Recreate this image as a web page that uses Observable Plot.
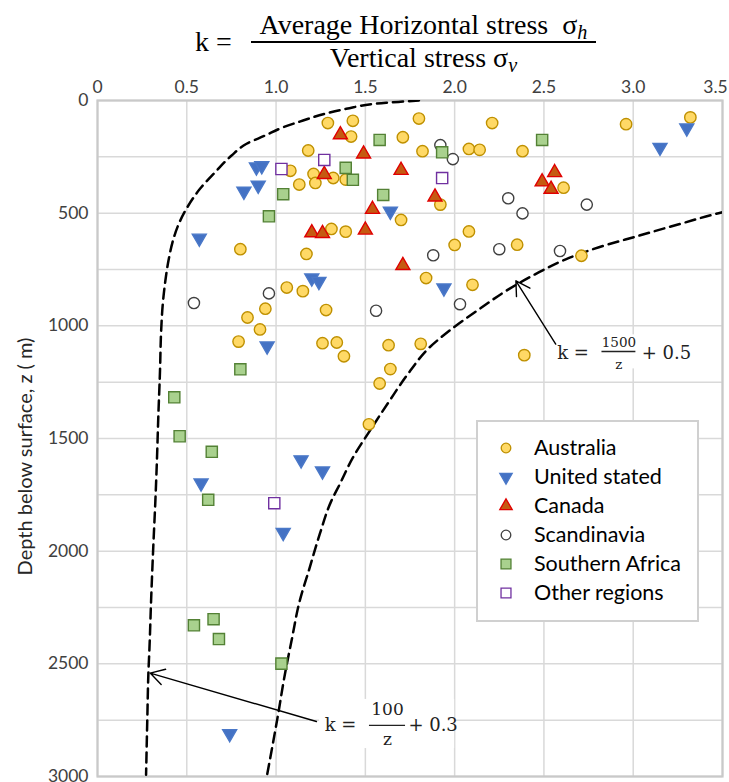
<!DOCTYPE html>
<html>
<head>
<meta charset="utf-8">
<script src="https://cdn.jsdelivr.net/npm/d3@7"></script>
<script src="https://cdn.jsdelivr.net/npm/@observablehq/plot@0.6"></script>
<style>
  body { margin: 0; background: #fff; }
  #wrap { position: relative; width: 729px; height: 782px; overflow: hidden; background: #fff; }
  #title { position: absolute; left: 0; top: 0; width: 729px; height: 75px; font-family: "Liberation Serif", serif; font-size: 28px; color: #000; }
  #title .k { position: absolute; left: 195px; top: 26px; line-height: 32px; white-space: nowrap; }
  #title .num { position: absolute; left: 251px; width: 345px; top: 9px; height: 32px; line-height: 32px; text-align: center; border-bottom: 2px solid #000; white-space: nowrap; }
  #title .den { position: absolute; left: 251px; width: 345px; top: 42px; line-height: 32px; text-align: center; white-space: nowrap; }
  #title sub { font-size: 0.72em; vertical-align: -0.25em; line-height: 0; }
  #chart { position: absolute; left: 0; top: 75px; }
  #legend { position: absolute; left: 476px; top: 420px; width: 223px; height: 202px; box-sizing: border-box; border: 2px solid #d0d0d0; background: #fff; font-family: Lato, sans-serif; font-size: 21.5px; color: #000; }
  #legend .row { position: absolute; left: 0; height: 29px; line-height: 29px; white-space: nowrap; }
  #legend svg { position: absolute; left: 17px; top: 4px; }
  #legend span { position: absolute; left: 56px; top: 0; }
</style>
</head>
<body>
<div id="wrap">
  <div id="title">
    <span class="k">k =</span>
    <div class="num">Average Horizontal stress&nbsp;&nbsp;σ<sub><i>h</i></sub></div>
    <div class="den">Vertical stress σ<sub><i>v</i></sub></div>
  </div>
  <div id="chart"></div>
  <div id="legend"></div>
</div>
<script>
// ---------- data ----------
const regions = ["Australia", "United stated", "Canada", "Scandinavia", "Southern Africa", "Other regions"];

const australiaK = [1.29,1.43,1.80,3.32,2.96,2.21,1.42,1.71,1.18,1.82,2.08,2.14,2.38,1.08,1.21,1.22,1.13,1.32,1.39,2.61,1.92,1.70,1.31,1.39,2.08,0.80,1.17,2.00,2.35,2.71,1.06,1.15,1.84,2.10,0.94,1.28,0.84,0.91,0.79,1.26,1.34,1.38,1.63,1.64,1.81,2.39,1.58,1.52];
const australiaZ = [100,90,80,75,105,100,160,163,222,225,215,219,225,312,326,366,373,344,351,387,462,530,570,582,581,660,681,641,640,689,830,846,788,818,924,930,963,1016,1070,1077,1074,1135,1086,1192,1080,1130,1256,1437];

const usK = [0.89,0.92,0.90,0.82,1.64,0.57,1.20,1.24,0.95,3.30,3.15,1.94,1.14,1.26,0.58,1.04,0.74];
const usZ = [295,290,376,403,492,611,788,803,1090,122,208,832,1595,1644,1698,1917,2810];

const canadaK = [1.36,1.49,1.70,1.27,1.54,1.20,1.26,1.50,1.71,2.56,2.49,2.54,1.89];
const canadaZ = [152,237,310,328,483,587,590,575,732,320,361,394,428];

const scandK = [0.96,0.54,1.56,1.92,1.99,2.30,2.38,2.74,1.88,2.25,2.59,2.03];
const scandZ = [856,899,933,198,260,434,501,462,687,660,668,904];

const safricaK = [1.58,1.39,1.43,1.60,1.04,0.96,2.49,1.93,0.80,0.43,0.46,0.64,0.62,0.54,0.65,0.68,1.03];
const safricaZ = [175,299,352,419,416,514,175,230,1193,1317,1490,1559,1772,2329,2302,2390,2499];

const otherK = [1.03,1.27,1.93,0.99];
const otherZ = [304,264,344,1787];

// dashed envelope curves
const curve1K = [1.80,1.728,1.617,1.393,1.272,1.151,1.039,0.937,0.835,0.751,0.658,0.574,0.508,0.455,0.425,0.400,0.380,0.366,0.356,0.350,0.341,0.332,0.324,0.313,0.300,0.291,0.285,0.279,0.272];
const curve1Z = [0,4,10,37,59,89,119,156,192,244,319,392,467,548,615,700,800,900,1030,1200,1392,1615,1778,1969,2222,2430,2541,2741,2992];
const curve2K = [3.52,3.478,3.274,3.032,2.808,2.622,2.473,2.306,2.138,1.970,1.859,1.737,1.635,1.524,1.430,1.356,1.309,1.244,1.188,1.132,1.086,1.049,1.011,0.974,0.946,0.94];
const curve2Z = [492,500,545,600,651,705,762,836,926,1022,1096,1215,1333,1467,1585,1704,1778,1926,2074,2222,2400,2548,2726,2889,3007,3030];

// axis ticks
const xTicks = [0, 0.5, 1, 1.5, 2, 2.5, 3, 3.5];
const yTicks = [0, 500, 1000, 1500, 2000, 2500, 3000];
const yGrid = [0, 250, 500, 750, 1000, 1250, 1500, 1750, 2000, 2250, 2500, 2750, 3000];
const yLabel = "Depth below surface, z ( m)";

// annotations (upper: 1500/z + 0.5, lower: 100/z + 0.3)
const annLead = ["k =", "k ="];
const annLeadK = [2.574, 1.272];
const annLeadZ = [1120, 2771];
const annNum = ["1500", "100"];
const annNumK = [2.920, 1.624];
const annNumZ = [1075, 2702];
const annDen = ["z", "z"];
const annDenZ = [1172, 2838];
const annBarK1 = [2.825, 1.523];
const annBarK2 = [3.015, 1.725];
const annBarZ = [1114, 2773];
const annTail = ["+ 0.5", "+ 0.3"];
const annTailK = [3.048, 1.741];
const annTailZ = [1120, 2771];
const annBoxK1 = [2.550, 1.244];
const annBoxK2 = [3.322, 2.000];
const annBoxZ1 = [1040, 2658];
const annBoxZ2 = [1191, 2876];
const arrowFromK = [2.566, 1.226];
const arrowFromZ = [1081, 2756];
const arrowToK = [2.343, 0.295];
const arrowToZ = [800, 2541];

// ---------- build tables ----------
const seriesK = [australiaK, usK, canadaK, scandK, safricaK, otherK];
const seriesZ = [australiaZ, usZ, canadaZ, scandZ, safricaZ, otherZ];
const points = [];
regions.forEach((name, s) => seriesK[s].forEach((k, i) => points.push({region: name, k, z: seriesZ[s][i]})));
const curve1 = curve1K.map((k, i) => ({k, z: curve1Z[i]}));
const curve2 = curve2K.map((k, i) => ({k, z: curve2Z[i]}));

const styles = {
  "Australia":       {symbol: "circle",   fill: "#FFD966", stroke: "#BF9000", rotate: 0,   r: 5.7},
  "United stated":   {symbol: "triangle", fill: "#4472C4", stroke: "#4A78C8", rotate: 180, r: 5.2},
  "Canada":          {symbol: "triangle", fill: "#C55A11", stroke: "#E00000", rotate: 0,   r: 5.2},
  "Scandinavia":     {symbol: "circle",   fill: "#ffffff", stroke: "#404040", rotate: 0,   r: 5.6},
  "Southern Africa": {symbol: "square",   fill: "#A9D18E", stroke: "#538135", rotate: 0,   r: 6.3},
  "Other regions":   {symbol: "square",   fill: "#ffffff", stroke: "#7030A0", rotate: 0,   r: 6.3}
};

const annMarks = [];
[0, 1].forEach(i => {
  const mainFs = 18, fracFs = i === 0 ? 13.5 : 17;
  annMarks.push(
    Plot.rect([0], {x1: () => annBoxK1[i], x2: () => annBoxK2[i], y1: () => annBoxZ1[i], y2: () => annBoxZ2[i], fill: "white"}),
    Plot.text([annLead[i]], {x: () => annLeadK[i], y: () => annLeadZ[i], text: d => d, textAnchor: "start", lineAnchor: "middle", fontSize: mainFs, fontFamily: "DejaVu Serif", fill: "#222"}),
    Plot.text([annNum[i]], {x: () => annNumK[i], y: () => annNumZ[i], text: d => d, textAnchor: "middle", lineAnchor: "middle", fontSize: fracFs, fontFamily: "DejaVu Serif", fill: "#222"}),
    Plot.text([annDen[i]], {x: () => annNumK[i], y: () => annDenZ[i], text: d => d, textAnchor: "middle", lineAnchor: "middle", fontSize: fracFs, fontFamily: "DejaVu Serif", fill: "#222"}),
    Plot.ruleY([0], {y: () => annBarZ[i], x1: () => annBarK1[i], x2: () => annBarK2[i], stroke: "#222", strokeWidth: 1.3}),
    Plot.text([annTail[i]], {x: () => annTailK[i], y: () => annTailZ[i], text: d => d, textAnchor: "start", lineAnchor: "middle", fontSize: mainFs, fontFamily: "DejaVu Serif", fill: "#222"}),
    Plot.arrow([0], {x1: () => arrowFromK[i], y1: () => arrowFromZ[i], x2: () => arrowToK[i], y2: () => arrowToZ[i], stroke: "#000", strokeWidth: 1.4, headLength: 17, headAngle: 60})
  );
});

const fmtX = d => d === 0 ? "0" : d.toFixed(1);
const fmtY = d => String(d);

const chart = Plot.plot({
  width: 729,
  height: 707,
  marginTop: 25,
  marginBottom: 6,
  marginLeft: 97,
  marginRight: 7,
  style: {fontFamily: "Lato, sans-serif", background: "white", color: "#404040"},
  x: {domain: [0, 3.5]},
  y: {domain: [0, 3000], reverse: true},
  marks: [
    Plot.gridX(xTicks, {stroke: "#d9d9d9", strokeOpacity: 1, strokeWidth: 1.5}),
    Plot.gridY(yGrid, {stroke: "#d9d9d9", strokeOpacity: 1, strokeWidth: 1.5}),
    Plot.frame({stroke: "#c9c9c9", strokeWidth: 2.2}),
    Plot.axisX(xTicks.slice(0, -1), {anchor: "top", tickSize: 0, tickPadding: 8, fontSize: 17.5, tickFormat: fmtX, label: null}),
    Plot.axisX(xTicks.slice(-1), {anchor: "top", tickSize: 0, tickPadding: 8, fontSize: 17.5, tickFormat: fmtX, label: null, dx: -7}),
    Plot.axisY(yTicks, {anchor: "left", tickSize: 0, tickPadding: 9, fontSize: 17.5, tickFormat: fmtY, label: null}),
    Plot.text([yLabel], {frameAnchor: "left", text: d => d, rotate: -90, dx: -72, dy: 18, textAnchor: "middle", lineAnchor: "middle", fontSize: 20, fill: "#262626"}),
    Plot.line(curve1, {x: "k", y: "z", stroke: "#000", strokeWidth: 2.5, strokeDasharray: "10,6", curve: "monotone-y", clip: true}),
    Plot.line(curve2, {x: "k", y: "z", stroke: "#000", strokeWidth: 2.5, strokeDasharray: "10,6", curve: "monotone-y", clip: true}),
    ...regions.map(name => Plot.dot(points.filter(d => d.region === name), {
      x: "k", y: "z",
      symbol: styles[name].symbol, r: styles[name].r, rotate: styles[name].rotate,
      fill: styles[name].fill, stroke: styles[name].stroke, strokeWidth: 1.4
    })),
    ...annMarks
  ]
});
document.getElementById("chart").appendChild(chart);

// ---------- legend ----------
const legend = document.getElementById("legend");
const legendSizes = {circle: 4.8, triangle: 4.6, square: 5.6};
regions.forEach((name, i) => {
  const st = styles[name];
  const row = document.createElement("div");
  row.className = "row";
  row.style.top = (11 + i * 29) + "px";
  const r = legendSizes[st.symbol];
  const sym = {circle: d3.symbolCircle, triangle: d3.symbolTriangle, square: d3.symbolSquare}[st.symbol];
  const path = d3.symbol(sym, Math.PI * r * r)();
  row.innerHTML = `<svg width="22" height="22" viewBox="-11 -11 22 22"><path d="${path}" transform="rotate(${st.rotate})" fill="${st.fill}" stroke="${st.stroke}" stroke-width="1.3"/></svg><span>${name}</span>`;
  legend.appendChild(row);
});
</script>
</body>
</html>
